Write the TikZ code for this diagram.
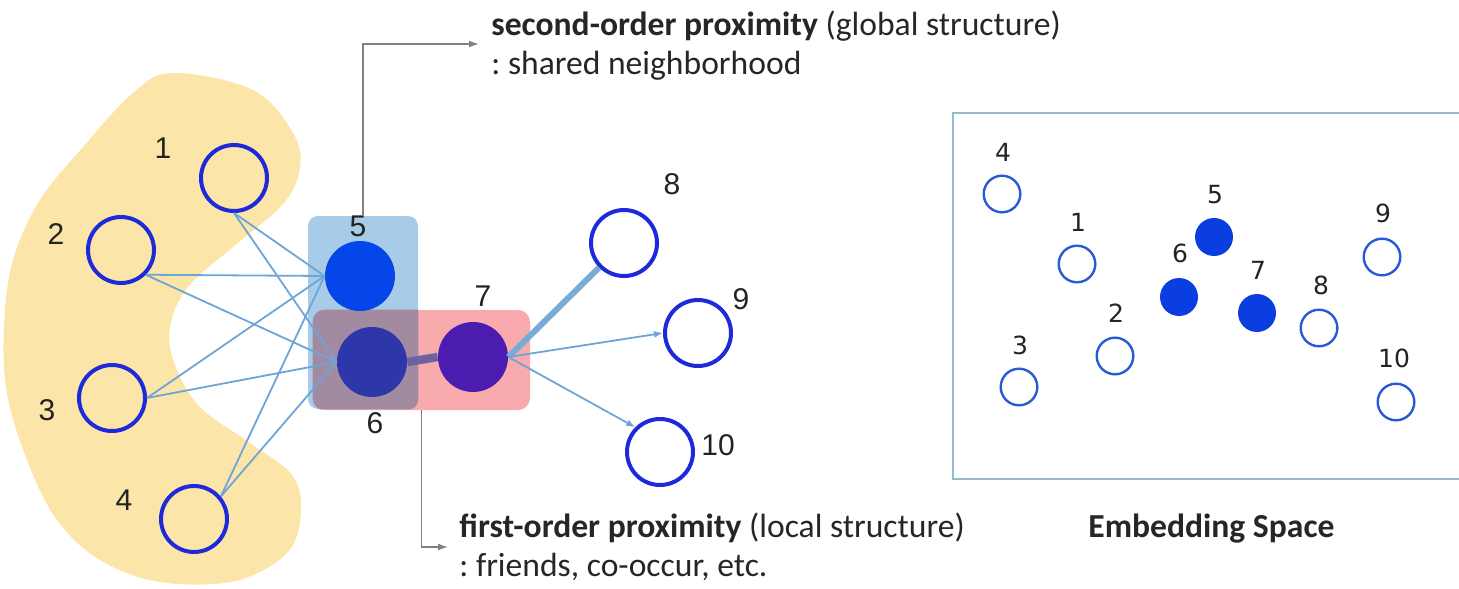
\documentclass[tikz,border=0pt]{standalone}
\usepackage{fontspec}
\setmainfont{Carlito}
\newfontfamily\digitfont{Liberation Sans}
\newfontfamily\embfont{DejaVu Sans}
\usetikzlibrary{arrows.meta}
\frenchspacing

\definecolor{blobyellow}{RGB}{252,229,168}
\definecolor{rectblue}{RGB}{168,204,232}
\definecolor{rectpink}{RGB}{249,170,172}
\definecolor{overlapc}{RGB}{162,139,160}
\definecolor{ringblue}{RGB}{28,42,218}
\definecolor{diskfive}{RGB}{5,70,235}
\definecolor{disksix}{RGB}{45,55,170}
\definecolor{diskseven}{RGB}{75,28,175}
\definecolor{edgeblue}{RGB}{110,165,215}
\definecolor{strongblue}{RGB}{120,172,215}
\definecolor{tieviolet}{RGB}{108,98,160}
\definecolor{calloutgray}{RGB}{128,128,128}
\definecolor{embring}{RGB}{40,90,215}
\definecolor{embdisk}{RGB}{10,62,225}
\definecolor{embframe}{RGB}{150,185,210}
\definecolor{digitc}{RGB}{35,35,35}

\begin{document}
\begin{tikzpicture}[x=0.5pt,y=-0.5pt,
  ring/.style={circle, draw=ringblue, line width=2pt, minimum size=33pt, inner sep=0pt},
  disk/.style={circle, minimum size=35pt, inner sep=0pt},
  numlabel/.style={font=\digitfont\fontsize{15}{18}\selectfont, text=digitc, inner sep=0pt},
  link/.style={draw=edgeblue, line width=0.9pt},
  arrowlink/.style={link, -{Latex[length=4.5pt,width=3.5pt]}},
  callout/.style={draw=calloutgray, line width=0.7pt, -{Latex[length=5pt,width=3.5pt]}},
  caption/.style={anchor=base west, inner sep=0pt, font=\fontsize{16.8}{20}\selectfont, text=black!85},
  group/.style={inner sep=0pt, draw=none},
  ering/.style={circle, draw=embring, line width=1.2pt, minimum size=18.3pt, inner sep=0pt},
  edisk/.style={circle, fill=embdisk, minimum size=19pt, inner sep=0pt},
  elabel/.style={font=\embfont\fontsize{12.5}{15}\selectfont, text=digitc, inner sep=0pt}
]
\useasboundingbox (0,0) rectangle (1459,588);

% neighbourhood of nodes 1-4
\fill[blobyellow] plot[smooth cycle, tension=0.6] coordinates {
  (173,73) (253,90) (293,133) (300,168) (283,204) (233,247) (188,287)
  (170,327) (175,365) (200,407) (250,443) (292,475) (301,512) (287,553)
  (235,581) (160,582) (100,560) (57,520) (27,460) (7,393) (4,327)
  (13,260) (40,200) (83,147) (133,93)};

% highlighted groups: {5,6} and {6,7}
\node[group, fill=rectblue, rounded corners=5pt, minimum width=55pt, minimum height=96.5pt]
  (grpA) at (363,312.5) {};
\node[group, fill=rectpink, rounded corners=6pt, minimum width=108.5pt, minimum height=50pt]
  (grpB) at (421.5,360) {};
\begin{scope}
  \clip[rounded corners=5pt] (grpA.north west) rectangle (grpA.south east);
  \fill[overlapc, rounded corners=6pt] (grpB.north west) rectangle (grpB.south east);
\end{scope}

% graph nodes
\node[ring] (n1) at (234,178) {};
\node[ring] (n2) at (121,250) {};
\node[ring] (n3) at (112,398) {};
\node[ring] (n4) at (194,519) {};
\node[disk, fill=diskfive] (n5) at (360,276) {};
\node[disk, fill=disksix] (n6) at (372,362) {};
\node[disk, fill=diskseven] (n7) at (473,357) {};
\node[ring] (n8) at (624,243) {};
\node[ring] (n9) at (698,333) {};
\node[ring] (n10) at (660,452) {};

% node numbers
\node[numlabel] (l1) at (163,148) {1};
\node[numlabel] (l2) at (56,234) {2};
\node[numlabel] (l3) at (47,410) {3};
\node[numlabel] (l4) at (124,500) {4};
\node[numlabel] (l5) at (358,226) {5};
\node[numlabel] (l6) at (375,423) {6};
\node[numlabel] (l7) at (483,296) {7};
\node[numlabel] (l8) at (672,184) {8};
\node[numlabel] (l9) at (741,299) {9};
\node[numlabel] (l10) at (718,445) {10};

% edges into 5 and 6
\foreach \src/\anc in {n1/south, n2/south east, n3/east, n4/40} {
  \draw[link] (\src.\anc) -- (n5.west);
  \draw[link] (\src.\anc) -- (n6.west);
}
% first-order tie and edges out of 7
\draw[draw=tieviolet, line width=4.2pt] (n6.east) -- (n7.west);
\draw[draw=strongblue, line width=3pt] (n7.east) -- (n8);
\draw[arrowlink] (n7.east) -- (n9.west);
\draw[arrowlink] (n7.east) -- (n10.135);

% callouts
\coordinate (secTip) at (479,44);
\coordinate (firTip) at (448,547);
\draw[callout] (grpA.north) |- (secTip);
\draw[callout] (grpB.south) |- (firTip);
\node[caption] (secA) at (491,36) {\textbf{second-order proximity} (global structure)};
\node[caption] (secB) at (491,75) {: shared neighborhood};
\node[caption] (firA) at (459,537) {\textbf{first-order proximity} (local structure)};
\node[caption] (firB) at (459,576) {: friends, co-occur, etc.};

% embedding space
\draw[embframe, line width=0.8pt] (1459,113) -- (953,113) -- (953,479) -- (1459,479);
\node[ering] (e4) at (1002,194) {};
\node[ering] (e1) at (1077,264) {};
\node[ering] (e2) at (1115,356) {};
\node[ering] (e3) at (1019,387) {};
\node[edisk] (e5) at (1214,237) {};
\node[edisk] (e6) at (1179,297) {};
\node[edisk] (e7) at (1257,313) {};
\node[ering] (e8) at (1319,328) {};
\node[ering] (e9) at (1382,257) {};
\node[ering] (e10) at (1396,402) {};
\node[elabel] (el4) at (1003,152) {4};
\node[elabel] (el1) at (1078,222) {1};
\node[elabel] (el2) at (1116,313) {2};
\node[elabel] (el3) at (1020,345) {3};
\node[elabel] (el5) at (1215,195) {5};
\node[elabel] (el6) at (1180,253) {6};
\node[elabel] (el7) at (1258,270) {7};
\node[elabel] (el8) at (1321,285) {8};
\node[elabel] (el9) at (1383,213) {9};
\node[elabel] (el10) at (1394,358) {10};
\node[caption] (emb) at (1088,537) {\textbf{Embedding Space}};
\end{tikzpicture}
\end{document}
